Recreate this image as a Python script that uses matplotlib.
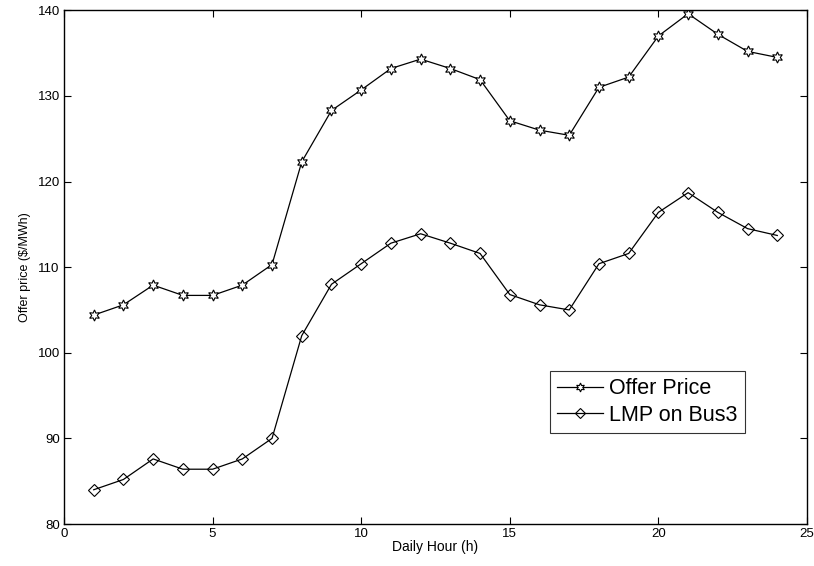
import matplotlib
matplotlib.use("Agg")
import matplotlib.pyplot as plt

plt.rcParams["font.family"] = ["Liberation Sans", "DejaVu Sans"]

hours = list(range(1, 25))
offer_price = [104.4, 105.6, 107.9, 106.7, 106.7, 107.9, 110.3, 122.3,
               128.3, 130.7, 133.2, 134.3, 133.2, 131.9, 127.1, 126.0,
               125.4, 131.0, 132.2, 137.0, 139.6, 137.2, 135.2, 134.5]
lmp_bus3 = [84.0, 85.2, 87.6, 86.4, 86.4, 87.6, 90.0, 102.0,
            108.0, 110.4, 112.8, 113.9, 112.8, 111.6, 106.8, 105.6,
            105.0, 110.4, 111.6, 116.4, 118.7, 116.4, 114.5, 113.7]
x_ticks = [0, 5, 10, 15, 20, 25]
y_ticks = [80, 90, 100, 110, 120, 130, 140]

fig = plt.figure(figsize=(8.14, 5.66), dpi=100)
ax = fig.add_axes([0.0786, 0.0742, 0.9128, 0.9076])

ax.plot(hours, offer_price, color="black", linewidth=0.9,
        marker=(6, 1, 0), markersize=8, markerfacecolor="white",
        markeredgecolor="black", markeredgewidth=0.8, label="Offer Price")
ax.plot(hours, lmp_bus3, color="black", linewidth=0.9,
        marker="D", markersize=6.5, markerfacecolor="none",
        markeredgecolor="black", markeredgewidth=0.8, label="LMP on Bus3")

ax.set_xlim(0, 25)
ax.set_ylim(80, 140)
ax.set_xticks(x_ticks)
ax.set_yticks(y_ticks)
ax.tick_params(direction="in", top=True, right=True, length=5,
               width=0.8, labelsize=9.5, pad=3)
for s in ax.spines.values():
    s.set_linewidth(1.0)

ax.set_xlabel("Daily Hour (h)", fontsize=10, labelpad=0)
ax.set_ylabel("Offer price (\\$/MWh)", fontsize=9, labelpad=5)

leg = ax.legend(loc="lower left", bbox_to_anchor=(0.654, 0.177),
                fontsize=15.5, frameon=True, fancybox=False, borderpad=0.35,
                handlelength=2.1, handletextpad=0.3, labelspacing=0.25,
                borderaxespad=0, markerscale=0.8)
leg.get_frame().set_edgecolor("black")
leg.get_frame().set_linewidth(0.8)

fig.savefig("out.png", dpi=100)
